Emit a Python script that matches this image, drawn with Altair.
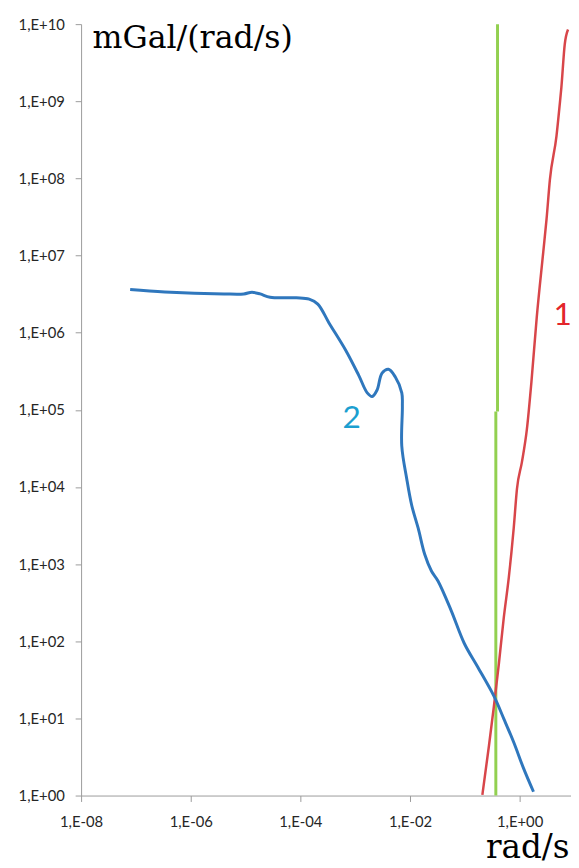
import altair as alt
import pandas as pd

# Curve 2 (blue)
blue_x = [7.85e-8, 3.36e-7, 4.05e-6, 9.3e-6, 1.31e-5, 1.85e-5, 2.80e-5, 8.47e-5,
          1.45e-4, 2.08e-4, 3.33e-4, 6.75e-4, 1.156e-3, 1.66e-3, 2.04e-3, 2.51e-3,
          3.09e-3, 4.06e-3, 5.37e-3, 7.08e-3, 7.26e-3, 7.08e-3, 8.73e-3, 1.074e-2,
          1.41e-2, 1.86e-2, 2.46e-2, 3.24e-2, 5.64e-2, 9.8e-2, 0.170, 0.340,
          0.515, 0.780, 1.18, 1.79]
blue_y = [3.63e6, 3.38e6, 3.18e6, 3.18e6, 3.35e6, 3.18e6, 2.88e6, 2.83e6,
          2.72e6, 2.35e6, 1.34e6, 5.89e5, 2.82e5, 1.66e5, 1.49e5, 1.81e5,
          2.99e5, 3.36e5, 2.68e5, 1.66e5, 1.11e5, 3.40e4, 1.27e4, 5.79e3,
          2.92e3, 1.33e3, 813, 605, 250, 93.5, 47.0, 19.4,
          9.86, 4.90, 2.25, 1.12]

# Curve 1 (red)
red_x = [0.209, 0.276, 0.340, 0.419, 0.515, 0.634, 0.780, 0.894, 1.10, 1.355,
         1.64, 2.05, 2.70, 3.10, 3.57, 4.70, 5.41, 5.78, 6.65, 7.64]
red_y = [1.02, 4.45, 14.5, 51.8, 205, 668, 2925, 9480, 2.10e4, 5.57e4,
         2.29e5, 1.57e6, 1.12e7, 2.99e7, 9.73e7, 3.53e8, 9.35e8, 1.53e9, 5.48e9, 8.53e9]

# Vertical green line (two segments)
green_x = [0.368, 0.395]
green_y0 = [1, 9.5e4]
green_y1 = [9.5e4, 1e10]

# Curve labels
label_text = ["1", "2"]
label_x = [6.12, 8.65e-4]
label_y = [1.70e6, 7.85e4]
label_color = ["#e3262b", "#1b9fd0"]

x_ticks = [1e-8, 1e-6, 1e-4, 1e-2, 1e0]
y_ticks = [1e0, 1e1, 1e2, 1e3, 1e4, 1e5, 1e6, 1e7, 1e8, 1e9, 1e10]

blue_df = pd.DataFrame({"x": blue_x, "y": blue_y, "i": range(len(blue_x))})
red_df = pd.DataFrame({"x": red_x, "y": red_y, "i": range(len(red_x))})
green_df = pd.DataFrame({"x": green_x, "y": green_y0, "y2": green_y1})
lab_df = pd.DataFrame({"x": label_x, "y": label_y, "t": label_text, "c": label_color})

lab_expr = ("'1,E' + (datum.value < 1 ? '-' : '+') + "
            "(abs(round(log(datum.value)/LN10)) < 10 ? '0' : '') + "
            "abs(round(log(datum.value)/LN10))")

axis_common = dict(
    grid=False, domainColor="#9a9a9a", tickColor="#9a9a9a", tickSize=6,
    labelFont="Lato", labelFontSize=15, labelColor="#262626",
    labelExpr=lab_expr, labelFlush=False,
    titleFont="DejaVu Serif", titleFontWeight="normal",
    titleColor="#000000", titleAngle=0, titleBaseline="alphabetic",
)

x_enc = alt.X("x:Q", scale=alt.Scale(type="log", domain=[1e-8, 8.65], nice=False),
              axis=alt.Axis(values=x_ticks, title="rad/s", labelPadding=13,
                            titleFontSize=33,
                            titleX=494, titleY=63, titleAlign="right", **axis_common))
y_enc = alt.Y("y:Q", scale=alt.Scale(type="log", domain=[1, 1e10], nice=False),
              axis=alt.Axis(values=y_ticks, title="mGal/(rad/s)", labelPadding=11,
                            titleFontSize=32,
                            titleX=11, titleY=24, titleAlign="left", **axis_common))

blue = alt.Chart(blue_df).mark_line(color="#2f77bd", strokeWidth=3,
                                    interpolate="catmull-rom").encode(
    x=x_enc, y=y_enc, order="i:Q")
red = alt.Chart(red_df).mark_line(color="#d8464a", strokeWidth=2.5,
                                  interpolate="monotone").encode(
    x=x_enc, y=y_enc, order="i:Q")
green = alt.Chart(green_df).mark_rule(color="#92d050", strokeWidth=3).encode(
    x=x_enc, y=y_enc, y2="y2:Q")
labels = alt.Chart(lab_df).mark_text(font="Lato", fontSize=32).encode(
    x=x_enc, y=y_enc, text="t:N", color=alt.Color("c:N", scale=None))

chart = alt.layer(green, red, blue, labels).properties(
    width=496, height=781,
    autosize=alt.AutoSizeParams(type="none"),
    padding={"left": 74, "top": 11, "right": 0, "bottom": 66},
    background="white",
).configure_view(stroke=None)

chart.save("out.html", embed_options={"renderer": "svg", "actions": False})
